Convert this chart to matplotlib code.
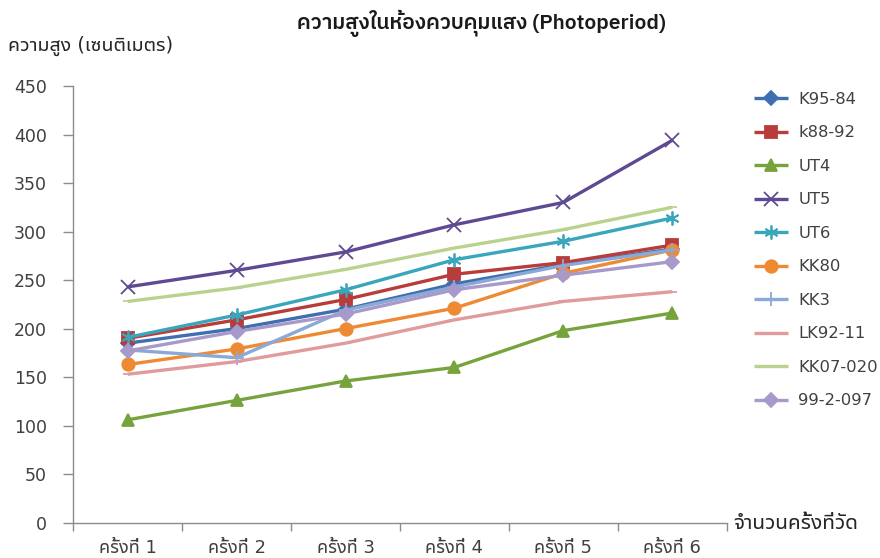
import matplotlib
matplotlib.use("Agg")
import matplotlib.pyplot as plt
import numpy as np

THAI = ["DejaVu Sans", "Noto Sans Thai UI"]
TITLE_FONT = ["IBM Plex Sans Thai", "DejaVu Sans"]

rounds = ["ครั้งที่ 1", "ครั้งที่ 2", "ครั้งที่ 3", "ครั้งที่ 4", "ครั้งที่ 5", "ครั้งที่ 6"]
series_names = ["K95-84", "k88-92", "UT4", "UT5", "UT6", "KK80", "KK3", "LK92-11", "KK07-020", "99-2-097"]

k95_84 = [185, 200, 220, 246, 266, 282]
k88_92 = [190, 209, 230, 256, 268, 286]
ut4 = [106, 126, 146, 160, 198, 216]
ut5 = [243, 260, 279, 307, 330, 394]
ut6 = [191, 214, 240, 271, 290, 314]
kk80 = [163, 179, 200, 221, 257, 281]
kk3 = [178, 170, 219, 243, 265, 281]
lk92_11 = [153, 166, 185, 209, 228, 238]
kk07_020 = [228, 242, 261, 283, 302, 325]
s99_2_097 = [177, 197, 215, 240, 255, 269]

values = [k95_84, k88_92, ut4, ut5, ut6, kk80, kk3, lk92_11, kk07_020, s99_2_097]

colors = ["#3F6FB0", "#B83C3A", "#77A33C", "#5E4A92", "#3AA6BC",
          "#EE8A33", "#8AA9D6", "#E09C9C", "#B9D38E", "#A899CB"]
markers = ["D", "s", "^", "x", (6, 2, 0), "o", "+", "_", "_", "D"]
msizes = [7, 9, 9, 10, 10, 9, 10, 7, 7, 7]

fig = plt.figure(figsize=(8.8, 5.58), dpi=100)
ax = fig.add_axes([0.0833, 0.0633, 0.7425, 0.7826])

x = np.arange(len(rounds))
for vals, name, c, m, ms in zip(values, series_names, colors, markers, msizes):
    ax.plot(x, vals, color=c, lw=2.4, marker=m, markersize=ms,
            markerfacecolor=c, markeredgecolor=c, markeredgewidth=1.3,
            label=name, solid_capstyle="butt")

ax.set_xlim(-0.5, len(rounds) - 0.5)
ax.set_ylim(0, 450)
ax.set_yticks(np.arange(0, 451, 50))
ax.set_xticks(x)
ax.set_xticklabels(rounds, family=THAI, fontsize=13, color="#404040")
ax.set_xticks(np.arange(-0.5, len(rounds), 1), minor=True)
ax.tick_params(axis="x", which="major", length=0, pad=12)
ax.tick_params(axis="x", which="minor", length=6, color="#8C8C8C", width=1)
ax.tick_params(axis="y", length=7, color="#8C8C8C", width=1, pad=12,
               labelsize=12.5, labelcolor="#404040")
for lab in ax.get_yticklabels():
    lab.set_family(THAI)

for side in ["top", "right"]:
    ax.spines[side].set_visible(False)
for side in ["left", "bottom"]:
    ax.spines[side].set_color("#8C8C8C")
    ax.spines[side].set_linewidth(1)

fig.text(0.547, 0.958, "ความสูงในห้องควบคุมแสง (Photoperiod)", ha="center", va="center",
         fontsize=15, fontweight="semibold", family=TITLE_FONT, color="#1A1A1A")
fig.text(0.009, 0.918, "ความสูง (เซนติเมตร)", ha="left", va="center",
         fontsize=14, family=THAI, color="#262626")
fig.text(0.833, 0.063, "จำนวนครั้งที่วัด", ha="left", va="center",
         fontsize=15, family=THAI, color="#262626")

leg = ax.legend(loc="upper left", bbox_to_anchor=(0.84, 0.862), bbox_transform=fig.transFigure,
                frameon=False, handlelength=2.1, labelspacing=1.13,
                handletextpad=0.6, prop={"family": THAI, "size": 11.8})
for t in leg.get_texts():
    t.set_color("#404040")

fig.savefig("out.png", dpi=100)
